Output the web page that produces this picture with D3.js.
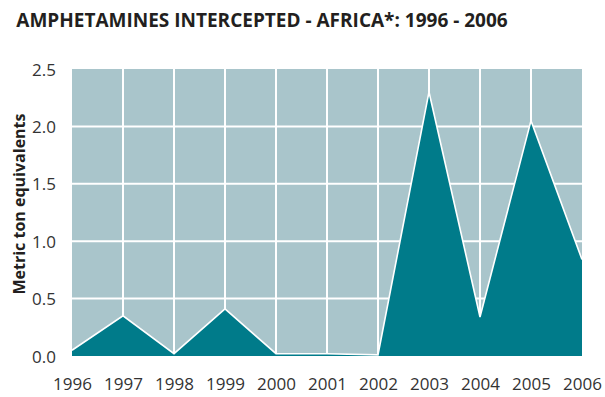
<!DOCTYPE html>
<html>
<head>
<meta charset="utf-8">
<script src="https://cdn.jsdelivr.net/npm/d3@7"></script>
<style>
  html, body { margin: 0; padding: 0; background: #ffffff; }
  svg { display: block; }
</style>
</head>
<body>
<svg id="chart" width="605" height="397"></svg>
<script>
// Amphetamine seizures in Africa, metric ton equivalents
const years = [1996, 1997, 1998, 1999, 2000, 2001, 2002, 2003, 2004, 2005, 2006];
const tons  = [0.05, 0.35, 0.02, 0.41, 0.02, 0.02, 0.01, 2.30, 0.34, 2.05, 0.84];
const yTicks = [0, 0.5, 1.0, 1.5, 2.0, 2.5];

const title = "AMPHETAMINES INTERCEPTED - AFRICA*: 1996 - 2006";
const yLabel = "Metric ton equivalents";

const svg = d3.select("#chart");
const margin = { top: 69, right: 23, bottom: 41, left: 72 };
const W = 605, H = 397;
const iw = W - margin.left - margin.right;
const ih = H - margin.top - margin.bottom;

const x = d3.scaleLinear().domain([years[0], years[years.length - 1]]).range([0, iw]);
const y = d3.scaleLinear().domain([0, 2.5]).range([ih, 0]);

const g = svg.append("g").attr("transform", `translate(${margin.left},${margin.top})`);

// plot background
g.append("rect").attr("width", iw).attr("height", ih).attr("fill", "#a9c5cb");

// white grid
g.append("g").selectAll("line").data(yTicks.slice(1, -1)).join("line")
  .attr("x1", 0).attr("x2", iw)
  .attr("y1", d => y(d)).attr("y2", d => y(d))
  .attr("stroke", "#ffffff").attr("stroke-width", 2);
g.append("g").selectAll("line").data(years.slice(1, -1)).join("line")
  .attr("x1", d => x(d)).attr("x2", d => x(d))
  .attr("y1", 0).attr("y2", ih)
  .attr("stroke", "#ffffff").attr("stroke-width", 2);

// filled area with white outline
const rows = years.map((yr, i) => ({ yr, v: tons[i] }));
const area = d3.area().x(d => x(d.yr)).y0(y(0)).y1(d => y(d.v));
const line = d3.line().x(d => x(d.yr)).y(d => y(d.v));
g.append("path").datum(rows).attr("d", area).attr("fill", "#007b8a");
g.append("path").datum(rows).attr("d", line)
  .attr("fill", "none").attr("stroke", "#ffffff").attr("stroke-width", 1.6)
  .attr("stroke-linejoin", "miter");

// axes
const font = "'Open Sans', 'Noto Sans', sans-serif";
const yAxis = g.append("g").attr("transform", "translate(-16,0)")
  .call(d3.axisLeft(y).tickValues(yTicks).tickFormat(d3.format(".1f")).tickSize(0).tickPadding(0));
yAxis.select(".domain").remove();
yAxis.selectAll("text").attr("font-family", font).attr("font-size", 17)
  .attr("fill", "#333333").attr("dy", "0.36em");

const xAxis = g.append("g").attr("transform", `translate(0,${ih + 21})`)
  .call(d3.axisBottom(x).tickValues(years).tickFormat(d3.format("d")).tickSize(0).tickPadding(0));
xAxis.select(".domain").remove();
xAxis.selectAll("text").attr("font-family", font).attr("font-size", 17)
  .attr("fill", "#333333").attr("dy", "0.75em");

// title
svg.append("text").attr("x", 262).attr("y", 27).attr("text-anchor", "middle")
  .attr("font-family", font).attr("font-weight", "bold").attr("font-size", 19)
  .attr("fill", "#231f20").text(title);

// y-axis label
svg.append("text").attr("transform", "translate(25,204) rotate(-90)")
  .attr("text-anchor", "middle").attr("font-family", font).attr("font-weight", "bold")
  .attr("font-size", 16).attr("fill", "#231f20").text(yLabel);
</script>
</body>
</html>
